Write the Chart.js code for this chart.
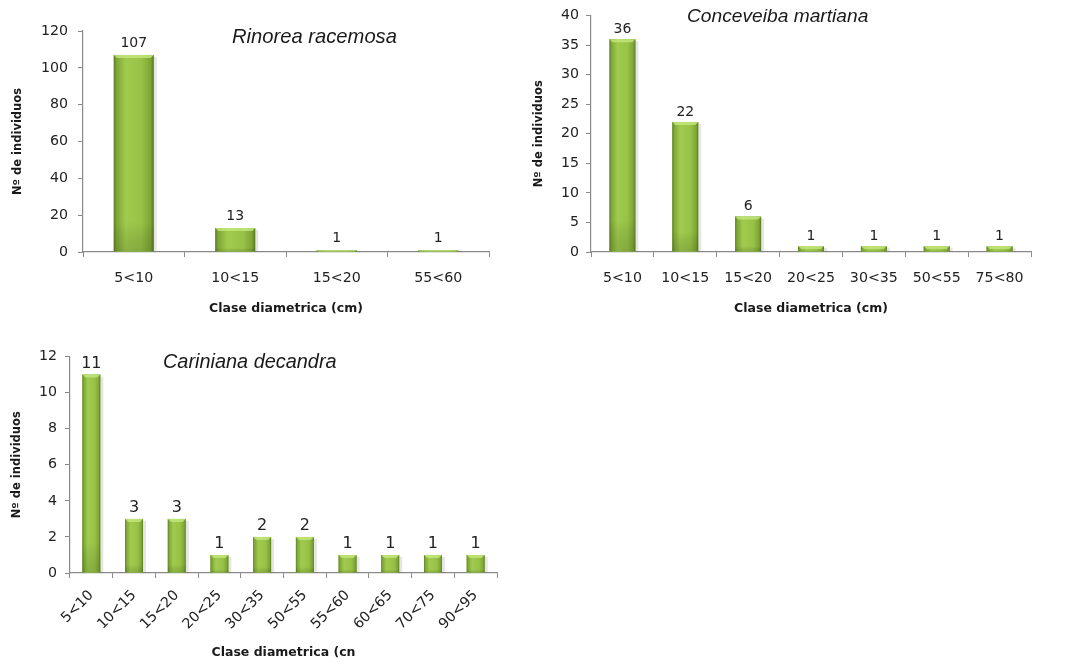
<!DOCTYPE html>
<html>
<head>
<meta charset="utf-8">
<script src="https://cdn.jsdelivr.net/npm/chart.js@4.4.1/dist/chart.umd.min.js"></script>
<style>
  html, body { margin: 0; padding: 0; background: #ffffff; width: 1073px; height: 666px; overflow: hidden; }
  canvas { position: absolute; display: block; }
  #c1 { left: 0; top: 0; }
  #c2 { left: 520px; top: 0; }
  #c3 { left: 0; top: 340px; }
</style>
</head>
<body>
<canvas id="c1" width="500" height="330"></canvas>
<canvas id="c2" width="553" height="330"></canvas>
<canvas id="c3" width="520" height="326"></canvas>
<script>
// Diameter classes (cm) and number of individuals per species
const rinoreaClasses = ['5<10', '10<15', '15<20', '55<60'];
const rinoreaCounts = [107, 13, 1, 1];
const rinoreaTicks = { max: 120, step: 20 };

const conceveibaClasses = ['5<10', '10<15', '15<20', '20<25', '30<35', '50<55', '75<80'];
const conceveibaCounts = [36, 22, 6, 1, 1, 1, 1];
const conceveibaTicks = { max: 40, step: 5 };

const carinianaClasses = ['5<10', '10<15', '15<20', '20<25', '30<35', '50<55', '55<60', '60<65', '70<75', '90<95'];
const carinianaCounts = [11, 3, 3, 1, 2, 2, 1, 1, 1, 1];
const carinianaTicks = { max: 12, step: 2 };

const AXIS = '#8a8a8a';
const INK = '#222222';
const FONT = 'DejaVu Sans';

// Soft drop shadow behind each bar
const barShadow = {
  id: 'barShadow',
  beforeDatasetsDraw(chart) {
    const ctx = chart.ctx;
    ctx.save();
    chart.getDatasetMeta(0).data.forEach(bar => {
      const { x, y, base, width } = bar.getProps(['x', 'y', 'base', 'width'], true);
      ctx.fillStyle = 'rgba(0,0,0,0.10)';
      ctx.fillRect(x + width / 2, y + 2, 3, base - y - 2);
    });
    ctx.restore();
  }
};

// Bevelled green shading drawn over each bar rectangle
const barShading = {
  id: 'barShading',
  afterDatasetsDraw(chart) {
    const ctx = chart.ctx;
    ctx.save();
    chart.getDatasetMeta(0).data.forEach(bar => {
      const { x, y, base, width } = bar.getProps(['x', 'y', 'base', 'width'], true);
      const left = x - width / 2, h = base - y;
      if (h <= 0) return;
      const g = ctx.createLinearGradient(left, 0, left + width, 0);
      g.addColorStop(0, '#5e7d24');
      g.addColorStop(0.07, '#7ea537');
      g.addColorStop(0.3, '#a0cb4e');
      g.addColorStop(0.7, '#97c247');
      g.addColorStop(0.92, '#7da535');
      g.addColorStop(1, '#5a7721');
      ctx.fillStyle = g;
      ctx.fillRect(left, y, width, h);
      // light bevel on the top edge
      const bev = Math.min(3, h);
      ctx.fillStyle = 'rgba(200,235,130,0.75)';
      ctx.beginPath();
      ctx.moveTo(left, y);
      ctx.lineTo(left + width, y);
      ctx.lineTo(left + width - bev, y + bev);
      ctx.lineTo(left + bev, y + bev);
      ctx.closePath();
      ctx.fill();
      // darker bottom edge
      const vg = ctx.createLinearGradient(0, y, 0, base);
      vg.addColorStop(0, 'rgba(0,0,0,0)');
      vg.addColorStop(0.85, 'rgba(0,0,0,0)');
      vg.addColorStop(1, 'rgba(40,60,10,0.18)');
      ctx.fillStyle = vg;
      ctx.fillRect(left, y, width, h);
    });
    ctx.restore();
  }
};

// Count written above each bar
const valueLabels = {
  id: 'valueLabels',
  afterDatasetsDraw(chart, args, opts) {
    const ctx = chart.ctx;
    const values = chart.data.datasets[0].data;
    ctx.save();
    ctx.font = opts.font;
    ctx.fillStyle = INK;
    ctx.textAlign = 'center';
    ctx.textBaseline = 'bottom';
    chart.getDatasetMeta(0).data.forEach((bar, i) => {
      const { x, y } = bar.getProps(['x', 'y'], true);
      ctx.fillText(String(values[i]), x, y - opts.gap);
    });
    ctx.restore();
  }
};

// Italic species name inside the plot
const speciesName = {
  id: 'speciesName',
  afterDraw(chart, args, opts) {
    const ctx = chart.ctx;
    ctx.save();
    ctx.font = 'italic ' + opts.size + 'px "Liberation Sans"';
    ctx.fillStyle = '#1a1a1a';
    ctx.textAlign = 'left';
    ctx.textBaseline = 'middle';
    ctx.fillText(opts.text, opts.x, opts.y);
    ctx.restore();
  }
};

function drawHistogram(id, classes, counts, ticks, s) {
  return new Chart(document.getElementById(id), {
    type: 'bar',
    data: {
      labels: classes,
      datasets: [{
        data: counts,
        backgroundColor: '#93c046',
        borderWidth: 0,
        barPercentage: s.barPct,
        categoryPercentage: 1
      }]
    },
    options: {
      responsive: false,
      animation: false,
      events: [],
      layout: { padding: s.padding },
      plugins: {
        legend: { display: false },
        tooltip: { enabled: false },
        title: { display: false },
        valueLabels: { font: s.valueFont, gap: s.valueGap },
        speciesName: s.name
      },
      scales: {
        x: {
          offset: true,
          grid: { offset: true, drawOnChartArea: false, drawTicks: true, tickLength: 5, color: AXIS, lineWidth: 1 },
          border: { color: AXIS, width: 1.2 },
          ticks: {
            autoSkip: false,
            color: INK,
            font: { family: FONT, size: 14.2 },
            padding: s.xTickPad,
            maxRotation: s.rot,
            minRotation: s.rot
          },
          title: {
            display: true,
            text: s.xTitle,
            color: '#1a1a1a',
            font: { family: FONT, size: 12.5, weight: 'bold' },
            padding: { top: 0, bottom: s.xTitleBottom }
          },
          afterFit(scale) { scale.height = s.xHeight; }
        },
        y: {
          min: 0,
          max: ticks.max,
          grid: { drawOnChartArea: false, drawTicks: true, tickLength: 5, color: AXIS, lineWidth: 1 },
          border: { color: AXIS, width: 1.2 },
          ticks: {
            stepSize: ticks.step,
            color: INK,
            font: { family: FONT, size: 14.2 },
            padding: s.yTickPad
          },
          title: {
            display: true,
            text: 'Nº de individuos',
            color: '#1a1a1a',
            font: { family: FONT, size: 11.5, weight: 'bold' },
            padding: { top: s.yTitleLeft, bottom: 0 }
          },
          afterFit(scale) { scale.width = s.yWidth; }
        }
      }
    },
    plugins: [barShadow, barShading, valueLabels, speciesName]
  });
}

drawHistogram('c1', rinoreaClasses, rinoreaCounts, rinoreaTicks, {
  padding: { left: 0, top: 31, right: 11, bottom: 0 },
  yWidth: 83, xHeight: 78, barPct: 0.394, rot: 0,
  xTickPad: 13, yTickPad: 10, xTitleBottom: 13.5, yTitleLeft: 11,
  xTitle: 'Clase diametrica (cm)',
  valueFont: '14px "DejaVu Sans"', valueGap: 5,
  name: { text: 'Rinorea racemosa', x: 232, y: 37, size: 20.2 }
});

drawHistogram('c2', conceveibaClasses, conceveibaCounts, conceveibaTicks, {
  padding: { left: 0, top: 12, right: 42, bottom: 0 },
  yWidth: 71, xHeight: 78, barPct: 0.413, rot: 0,
  xTickPad: 13, yTickPad: 7, xTitleBottom: 13.5, yTitleLeft: 12,
  xTitle: 'Clase diametrica (cm)',
  valueFont: '14px "DejaVu Sans"', valueGap: 3,
  name: { text: 'Conceveiba martiana', x: 167, y: 17, size: 19.2 }
});

drawHistogram('c3', carinianaClasses, carinianaCounts, carinianaTicks, {
  padding: { left: 0, top: 15, right: 23, bottom: 0 },
  yWidth: 70, xHeight: 93, barPct: 0.42, rot: 45,
  xTickPad: 9, yTickPad: 8, xTitleBottom: 6, yTitleLeft: 10,
  xTitle: 'Clase diametrica (cn',
  valueFont: '16px "DejaVu Sans"', valueGap: 3,
  name: { text: 'Cariniana decandra', x: 163, y: 22, size: 19.9 }
});
</script>
</body>
</html>
